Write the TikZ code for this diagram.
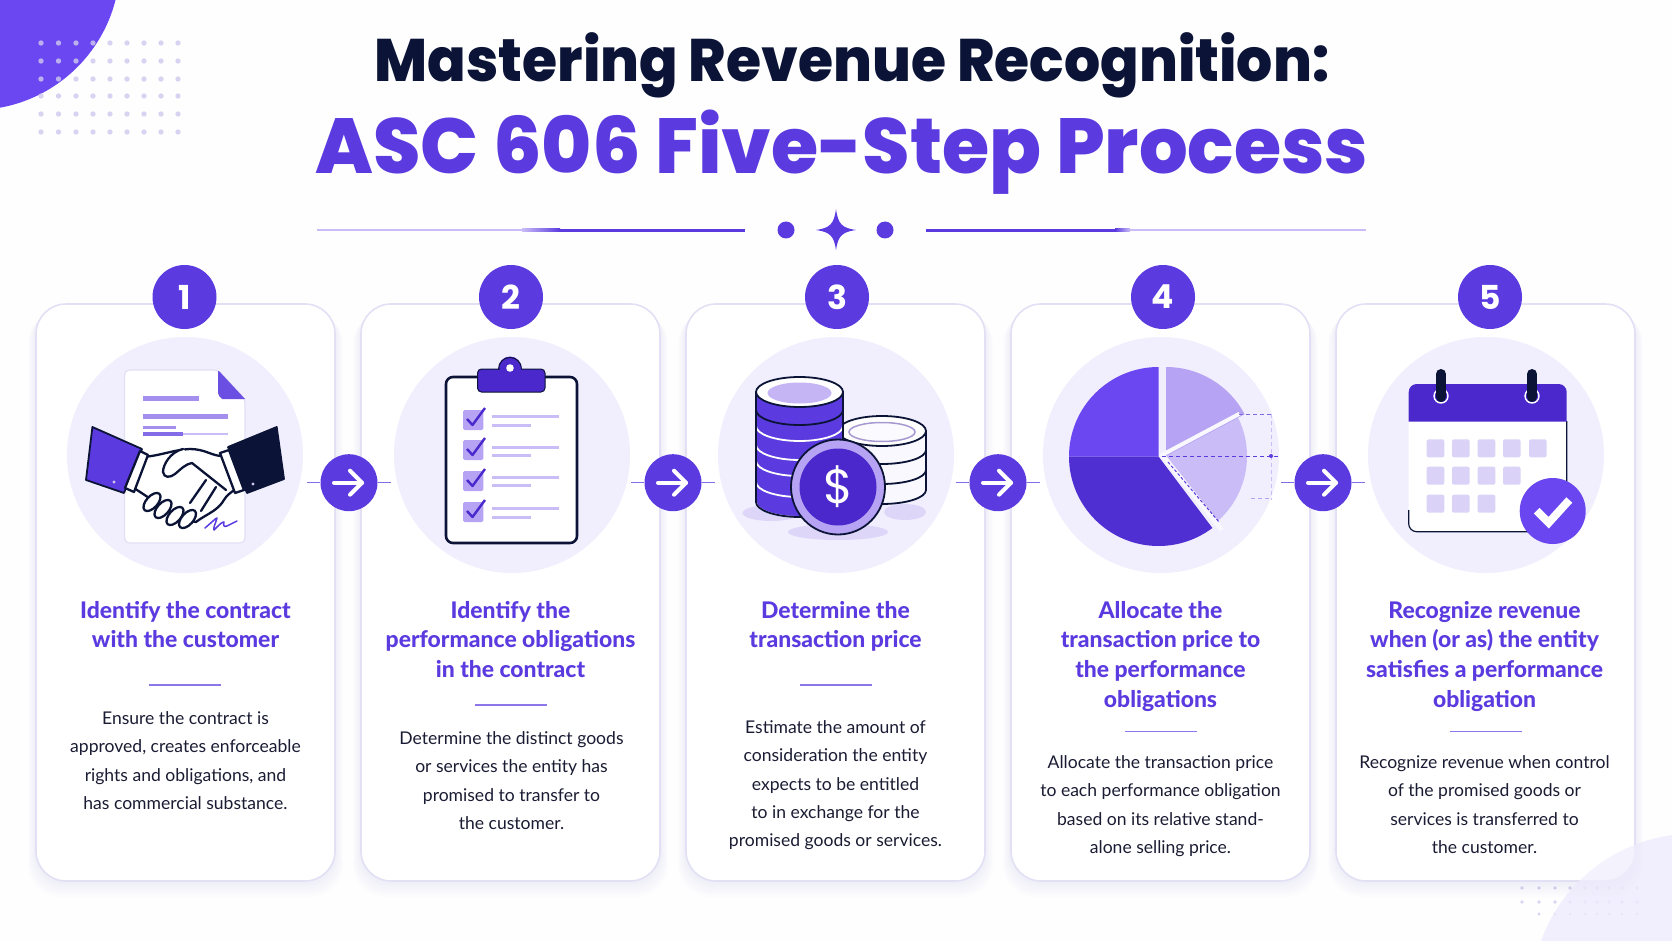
\documentclass[tikz,border=0pt]{standalone}
\usepackage{fontspec}
\setmainfont{Lato}
\newfontfamily\titlef{Poppins}[BoldFont=* Bold]
\newfontfamily\titlea{Poppins ExtraBold}[FakeStretch=0.947]
\newfontfamily\titleb{Poppins ExtraBold}[FakeStretch=0.981]
\newfontfamily\headf{Lato Heavy}
\usetikzlibrary{calc}
\definecolor{pur}{HTML}{5B3BE0}
\definecolor{purd}{HTML}{4A28CC}
\definecolor{purm}{HTML}{6B47F2}
\definecolor{navy}{HTML}{0B1436}
\definecolor{halo}{HTML}{F1EEFD}
\definecolor{edgec}{HTML}{E3E0F5}
\definecolor{dotc}{HTML}{CFC9EE}
\definecolor{lil}{HTML}{B6A3F3}
\definecolor{lil2}{HTML}{CABCF6}
\definecolor{cell}{HTML}{DAD3F7}
\definecolor{bodyc}{HTML}{1A1C33}
\definecolor{docl}{HTML}{A48FEF}
\definecolor{shad}{HTML}{DDD6F8}
\tikzset{
 x=1pt,y=-1pt,
 card/.style={fill=white,draw=edgec,line width=1.6pt,rounded corners=30pt},
 shadowcard/.style={fill=pur,opacity=.008,rounded corners=32pt},
 badge/.style={circle,fill=pur,minimum size=64pt,inner sep=0pt,text=white,font=\titlef\bfseries\fontsize{33}{33}\selectfont},
 flow/.style={circle,fill=pur,minimum size=57pt,inner sep=0pt},
 stub/.style={draw=pur!75,line width=1.5pt},
 arrowmark/.style={draw=white,line width=4pt,line cap=round,line join=round},
 head/.style={anchor=north,align=center,inner sep=0pt,text=pur,font=\headf\fontsize{22.9}{29.8}\selectfont},
 bodytxt/.style={anchor=north,align=center,inner sep=0pt,text=bodyc,font=\fontsize{17.55}{28.2}\selectfont},
 rulel/.style={draw=pur!70,line width=1.3pt},
 stroke/.style={draw=navy,line width=1.8pt,line join=round,line cap=round},
 hand/.style={draw=navy,line width=2.3pt,line join=round,line cap=round,fill=white},
 docline/.style={line width=5pt,draw=docl},
 listline/.style={line width=3pt,draw=lil2},
}
\begin{document}
\begin{tikzpicture}
\useasboundingbox (0,0) rectangle (1672,941);
\fill[white!99.5!pur] (0,0) rectangle (1672,941);
% corner blobs and dots
\fill[purm] (-26,-36) circle (146);
\foreach \c in {41,58.5,76,93,110,127,144,161,178}
 \foreach \r in {43,61,79,96,114,132}
  \fill[dotc,opacity=.8] (\c,\r) circle (2.7);
\fill[halo] (1693,995) circle (161);
\foreach \c in {1522,1539,1555,1570,1585,1597,1609,1622,1637}
 \foreach \r in {888,902}
  \fill[dotc,opacity=.8] (\c,\r) circle (1.8);
\foreach \c in {1539,1555,1570,1585,1597,1609,1622,1637}
  \fill[dotc,opacity=.8] (\c,914) circle (1.6);
% title
\node[anchor=base,inner sep=0pt,text=navy,font=\titlea\fontsize{60}{60}\selectfont] (t1) at (852,82) {Mastering Revenue Recognition:};
\node[anchor=base,inner sep=0pt,text=pur,font=\titleb\fontsize{78}{78}\selectfont] (t2) at (842,174) {ASC 606 Five-Step Process};
% ornament
\fill[lil2] (317,229) rectangle (522,231.2);
\shade[left color=lil2,right color=pur] (522,228.8) rectangle (560,231.4);
\fill[pur] (560,228.6) rectangle (745,231.6);
\fill[pur] (926,228.6) rectangle (1115,231.6);
\shade[left color=pur,right color=lil2] (1115,228.8) rectangle (1130,231.4);
\fill[lil2] (1130,229) rectangle (1366,231.2);
\fill[pur] (786,230) circle (8.5) (885,230) circle (8.5);
\fill[pur] (836,209) .. controls (838,224) and (842,228) .. (856,230) .. controls (842,232) and (838,236) .. (836,250) .. controls (834,236) and (830,232) .. (816,230) .. controls (830,228) and (834,224) .. (836,209) -- cycle;
% cards
\foreach \cx/\bx in {36/184.5,361/511,686/837,1011/1163,1336/1490}{
 \foreach \g in {1,...,8}
  \fill[shadowcard] ({\cx-\g},{304+\g}) rectangle ({\cx+299+\g},{881+2*\g});
 \draw[card] (\cx,304) rectangle ++(299,577);
}
\fill[halo,opacity=.75] (1693,995) circle (161);
% badges
\node[badge] (b1) at (184.5,297) {1};
\node[badge] (b2) at (511,297) {2};
\node[badge] (b3) at (837,297) {3};
\node[badge] (b4) at (1163,297) {4};
\node[badge] (b5) at (1490,297) {5};
% halos
\foreach \c in {185,512,836,1161,1486}
 \fill[halo] (\c,455) circle (118);
% flow arrows
\foreach \n/\c in {1/349,2/673,3/998,4/1323}{
 \coordinate (l\n) at ({\c-42},482.7);
 \coordinate (r\n) at ({\c+42},482.7);
 \node[flow] (f\n) at (\c,482.7) {};
 \draw[stub] (l\n) -- (f\n);
 \draw[stub] (f\n) -- (r\n);
 \draw[arrowmark] ({\c-15},482.7) -- ({\c+13},482.7);
 \draw[arrowmark] ({\c+1},470.7) -- ({\c+13},482.7) -- ({\c+1},494.7);
}
% ---------- icon 1: contract and handshake
\draw[fill=white,draw=edgec,line width=1.2pt,rounded corners=5pt] (124.5,370) -- (218,370) -- (245,399) -- (245,543) -- (124.5,543) -- cycle;
\fill[pur!90!white] (218,370) -- (245,399) -- (222,399) [rounded corners=2pt] -- (218,395) -- cycle;
\draw[docline] (142.5,398.7) -- (199,398.7);
\draw[docline] (142.5,416) -- (228,416);
\draw[line width=3pt,draw=docl] (142.5,427) -- (176,427);
\draw[line width=2.5pt,draw=lil2] (183,434) -- (228,434);
\draw[line width=4.5pt,draw=pur!75] (142.5,434) -- (183,434);
\draw[stroke,fill=pur] (92.4,427) -- (142,449) -- (124,493) -- (86,480) -- cycle;
\draw[stroke,fill=navy] (276.7,427) -- (228,447) -- (247,493) -- (284,479) -- cycle;
\fill[dotc] (114,482) circle (1.6) (253,484) circle (1.6);
% fingers
\draw[hand] (142,457) .. controls (160,456) and (172,450) .. (190,449) .. controls (205,449) and (212,456) .. (222,456) -- (236,489) .. controls (226,495) and (224,500) .. (222,503) .. controls (215,512) and (205,515) .. (196,522) .. controls (180,520) and (160,505) .. (134,488) -- cycle;
\foreach \fx/\fy in {152/502,163/509,175/516,187.5/519}
 \draw[hand,rotate around={48:(\fx,\fy)}] (\fx,\fy) ellipse [x radius=11,y radius=5.8];
\draw[hand] (183,449) .. controls (170,452) and (163,465) .. (163,472) .. controls (164,478) and (170,478) .. (175,474) .. controls (182,468) and (186,464) .. (192,463) -- (226,490);
\draw[hand,fill=none] (206,480) -- (190,503);
\draw[hand,fill=none] (216,487) -- (201,511);
\draw[hand] (140,451) -- (148,455) -- (134,492) -- (125,488) -- cycle;
\draw[hand] (220,453) -- (229,450) -- (244,490) -- (235,493) -- cycle;
\draw[draw=pur,line width=1.5pt,line cap=round,line join=round] (205,528) .. controls (212,522) and (216,518) .. (217,518) .. controls (215,525) and (213,528) .. (214,530) .. controls (220,524) and (222,522) .. (224,522) .. controls (223,526) and (224,527) .. (227,526) -- (237,521);
% ---------- icon 2: clipboard
\draw[fill=white,draw=navy,line width=2.6pt,rounded corners=7pt] (446,377) rectangle (577,543);
\fill[purd] (510,368) circle (11.5);
\draw[navy,line width=1pt] (498.5,369) arc[start angle=180,end angle=360,radius=11.5];
\draw[fill=purd,draw=navy,line width=1pt,rounded corners=4pt] (477.5,369) rectangle (545,392);
\fill[purd] (499.5,367) rectangle (520.5,372);
\fill[white] (510,368) circle (3.8);
\foreach \t/\la/\lb in {410/416/425,440/447/455.5,471/477/485.7,502/508/517}{
 \fill[lil,rounded corners=1.5pt] (463,\t) rectangle ++(20.4,20);
 \draw[draw=purd,line width=2.4pt,line join=round] (467,{\t+9}) -- (472.5,{\t+15}) -- (485,{\t-2});
 \draw[listline] (492,\la) -- (559,\la);
 \draw[listline] (492,\lb) -- (530.5,\lb);
}
% ---------- icon 3: coins
\fill[shad] (771.5,513) ellipse [x radius=29,y radius=8];
\fill[shad] (838,532) ellipse [x radius=50,y radius=8];
\fill[shad] (905,512) ellipse [x radius=21,y radius=8];
\foreach \b/\t in {490/470,470/450,450/431}{
 \path[fill=white!92!lil] (838,\t) -- (838,\b) arc[start angle=180,end angle=0,x radius=44,y radius=14] -- (926,\t) -- cycle;
 \draw[stroke] (838,\b) arc[start angle=180,end angle=0,x radius=44,y radius=14];
 \draw[stroke] (926,\t) -- (926,\b);
}
\draw[stroke,fill=white] (882,431) ellipse [x radius=44,y radius=15];
\draw[draw=lil!70!gray,fill=white!95!lil,line width=1.5pt] (882,432) ellipse [x radius=33,y radius=9.5];
\foreach \b/\t in {502/482,482/461,461/445,445/426,426/410}{
 \path[fill=pur] (756,\t) -- (756,\b) arc[start angle=180,end angle=0,x radius=43.5,y radius=15] -- (843,\t) -- cycle;
 \draw[white,line width=1.8pt] (756,\b) arc[start angle=180,end angle=0,x radius=43.5,y radius=15];
}
\path[fill=pur] (756,392) -- (756,410) arc[start angle=180,end angle=0,x radius=43.5,y radius=15] -- (843,392) -- cycle;
\draw[stroke] (756,410) arc[start angle=180,end angle=0,x radius=43.5,y radius=15];
\draw[stroke] (756,502) arc[start angle=180,end angle=0,x radius=43.5,y radius=15];
\draw[stroke] (756,392) -- (756,502) (843,392) -- (843,502);
\draw[stroke,fill=white] (799.5,392) ellipse [x radius=43.5,y radius=15];
\fill[lil!80!white] (799.5,393) ellipse [x radius=32,y radius=10.5];
\draw[stroke,fill=lil] (838,487) ellipse [x radius=47,y radius=47.5];
\fill[purd] (838,487) ellipse [x radius=38.5,y radius=38.5];
\node[inner sep=0pt,text=white,font=\titlef\fontsize{48}{48}\selectfont] (dollar) at (838,487) {\$};
% ---------- icon 4: pie
\fill[lil2] (1160,456) -- (1247,456) arc[start angle=0,end angle=48,radius=87] -- cycle;
\fill[lil2] (1160,456) -- ++(-28:87) arc[start angle=-28,end angle=0,radius=87] -- cycle;
\fill[lil] (1166,456) -- ++(-90:89) arc[start angle=-90,end angle=-28,radius=89] -- cycle;
\fill[purm] (1158.5,456.5) -- ++(-90:89.5) arc[start angle=-90,end angle=-180,radius=89.5] -- cycle;
\fill[purd!70!pur] (1158.5,456.5) -- (1069,456.5) arc[start angle=-180,end angle=-307,radius=89.5] -- cycle;
\draw[white!92!lil,line width=4pt] (1160,456) -- ++(-28:90);
\draw[white!92!lil,line width=5pt] (1163,456) -- (1222,530);
\draw[pur,line width=1pt,dash pattern=on 4pt off 3pt] (1162,456) -- (1279,456);
\draw[pur,line width=1pt,dash pattern=on 3pt off 2pt] (1168,462) -- (1219,522);
\draw[purd!70,line width=1pt,dash pattern=on 4pt off 3pt] (1239,414) -- (1271,414);
\draw[lil2,line width=.8pt,dash pattern=on 4pt off 3pt] (1271,414) -- (1271,500);
\draw[lil,line width=1pt,dash pattern=on 4pt off 3pt] (1251,498) -- (1272,498);
\fill[pur] (1271,456) circle (2);
% ---------- icon 5: calendar
\fill[white,rounded corners=8pt] (1408.7,384) rectangle (1566.7,531.7);
\draw[navy,line width=1.2pt,rounded corners=8pt] (1566.7,421) -- (1566.7,531.7) -- (1408.7,531.7) -- (1408.7,510);
\fill[purd,rounded corners=8pt] (1408.7,421.7) [sharp corners] -- (1408.7,400) [rounded corners=8pt] -- (1408.7,384) -- (1566.7,384) -- (1566.7,400) [sharp corners] -- (1566.7,421.7) -- cycle;
\foreach \rc in {1441,1532}{
 \draw[white,line width=1.4pt] (\rc,396) circle (7);
 \draw[navy,line width=10pt,line cap=round] (\rc,374) -- (\rc,397);
}
\foreach \c/\r in {1426.7/439.3,1452/439.3,1477.7/439.3,1503/439.3,1529/439.3,1426.7/466.7,1452/466.7,1477.7/466.7,1503/466.7,1426.7/494.7,1452/494.7,1477.7/494.7}
 \fill[cell,rounded corners=2pt] (\c,\r) rectangle ++(17.6,18);
\fill[purm!90!pur] (1552.7,511) circle (33);
\draw[white,line width=8pt,line join=miter] (1536.7,510.7) -- (1548.7,522.7) -- (1569.3,500);
% text
\node[head] (h1) at (185.5,597) {\strut Identify the contract\\with the customer};
\node[head] (h2) at (510.5,597) {\strut Identify the\\performance obligations\\in the contract};
\node[head] (h3) at (835.5,597) {\strut Determine the\\transaction price};
\node[head] (h4) at (1160.5,597) {\strut Allocate the\\transaction price to\\the performance\\obligations};
\node[head] (h5) at (1484.5,597) {\strut Recognize revenue\\when (or as) the entity\\satisfies a performance\\obligation};
\draw[rulel] (149,685) -- (221,685);
\draw[rulel] (475,705) -- (547,705);
\draw[rulel] (800,685) -- (872,685);
\draw[rulel] (1125,731.5) -- (1197,731.5);
\draw[rulel] (1450,731.5) -- (1522,731.5);
\node[bodytxt] (d1) at (185.5,704.7) {\strut Ensure the contract is\\approved, creates enforceable\\rights and obligations, and\\has commercial substance.};
\node[bodytxt] (d2) at (511.5,724.7) {\strut Determine the distinct goods\\or services the entity has\\promised to transfer to\\the customer.};
\node[bodytxt] (d3) at (835.5,713.7) {\strut Estimate the amount of\\consideration the entity\\expects to be entitled\\to in exchange for the\\promised goods or services.};
\node[bodytxt] (d4) at (1160.5,748.7) {\strut Allocate the transaction price\\to each performance obligation\\based on its relative stand-\\alone selling price.};
\node[bodytxt] (d5) at (1484.5,748.7) {\strut Recognize revenue when control\\of the promised goods or\\services is transferred to\\the customer.};
\end{tikzpicture}
\end{document}
